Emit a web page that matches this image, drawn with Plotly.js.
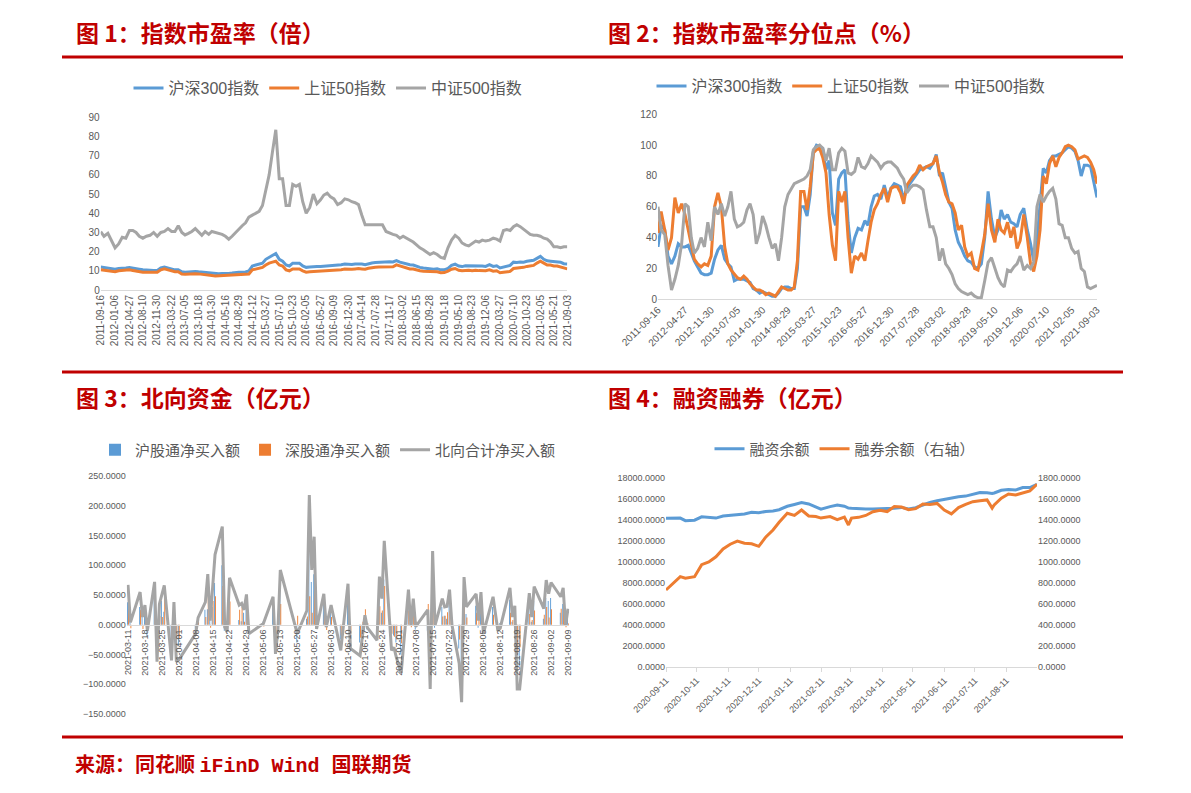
<!DOCTYPE html>
<html><head><meta charset="utf-8">
<script src="https://cdn.plot.ly/plotly-3.0.1.min.js"></script>
<style>html,body{margin:0;padding:0;background:#fff}#chart{width:1191px;height:793px}</style>
</head><body><div id="chart"></div>
<script>
// ---------- Charts 1 & 2: PE and PE percentile ----------
const peDates = [
'2011-09-16','2011-10-12','2011-11-11','2011-12-08',
'2012-01-06','2012-02-03','2012-03-02','2012-03-30',
'2012-04-27','2012-05-24','2012-06-18','2012-07-13',
'2012-08-10','2012-09-07','2012-10-05','2012-11-02',
'2012-11-30','2012-12-28','2013-01-25','2013-02-22',
'2013-03-22','2013-04-17','2013-05-13','2013-06-10',
'2013-07-05','2013-07-31','2013-08-27','2013-09-23',
'2013-10-18','2013-11-13','2013-12-09','2014-01-06',
'2014-01-30','2014-02-26','2014-03-24','2014-04-20',
'2014-05-16','2014-06-11','2014-07-07','2014-08-02',
'2014-08-29','2014-09-24','2014-10-20','2014-11-15',
'2014-12-12','2015-01-08','2015-02-03','2015-03-01',
'2015-03-27','2015-04-22','2015-05-18','2015-06-13',
'2015-07-10','2015-08-05','2015-09-01','2015-09-27',
'2015-10-23','2015-11-18','2015-12-14','2016-01-09',
'2016-02-05','2016-03-04','2016-04-01','2016-04-29',
'2016-05-27','2016-06-22','2016-07-18','2016-08-13',
'2016-09-09','2016-10-07','2016-11-04','2016-12-02',
'2016-12-30','2017-01-26','2017-02-21','2017-03-19',
'2017-04-14','2017-05-10','2017-06-05','2017-07-01',
'2017-07-28','2017-08-25','2017-09-22','2017-10-20',
'2017-11-17','2017-12-13','2018-01-09','2018-02-05',
'2018-03-02','2018-03-28','2018-04-24','2018-05-20',
'2018-06-15','2018-07-11','2018-08-07','2018-09-02',
'2018-09-28','2018-10-26','2018-11-23','2018-12-21',
'2019-01-18','2019-02-15','2019-03-15','2019-04-12',
'2019-05-10','2019-06-05','2019-07-01','2019-07-27',
'2019-08-23','2019-09-19','2019-10-15','2019-11-10',
'2019-12-06','2020-01-05','2020-02-03','2020-03-01',
'2020-03-27','2020-04-23','2020-05-19','2020-06-14',
'2020-07-10','2020-08-05','2020-09-01','2020-09-27',
'2020-10-23','2020-11-18','2020-12-14','2021-01-09',
'2021-02-05','2021-03-04','2021-03-30','2021-04-25',
'2021-05-21','2021-06-16','2021-07-12','2021-08-07',
'2021-09-03'];

const hs300PE = [12,11.8,11.5,11,10.8,11.2,11.5,11.5,11.7,11.5,11,10.8,10.5,10.3,10.3,10.2,10.2,11.5,12,11.5,10.8,10.5,10.5,9.5,9.3,9.5,9.8,9.7,9.5,9.3,9.2,8.8,8.7,8.5,8.5,8.6,8.5,8.6,8.8,9.2,9.3,9.3,9.4,10,12.5,13,13.5,14,
16,17,18,19,16,15,13,12.5,14,14,14,12.5,11.8,12,12.2,12.2,
12.2,12.3,12.6,12.8,12.8,12.9,13.2,13.5,13.3,13.3,13.6,13.7,13.5,13.2,13.8,14.1,14.3,14.5,14.6,14.8,14.7,14.6,15.3,14.5,14,13.6,13.2,13,12.3,11.8,11.5,11.3,11.4,10.8,11,10.5,10.5,11.3,12.8,13.5,12.5,12.2,12.6,12.6,12.4,12.7,12.5,12.5,12.3,13.2,12.3,12.6,11.5,12,12.3,12.8,14.5,14.3,14.6,14.5,15,15.3,15.5,16.5,17.5,16,15.2,15,14.8,14.8,14.5,13.7,13.5];
const sz50PE = [10.5,10.3,10.2,9.8,9.5,10,10.3,10.3,10.5,10.2,9.8,9.5,9.3,9.2,9.3,9.2,9.2,10.5,11,10.5,9.8,9.5,9.5,8.3,8.2,8.3,8.6,8.5,8.4,8.1,8,7.7,7.5,7.3,7.4,7.5,7.4,7.5,7.7,8,8,8,8,8.3,10.5,11,11.5,11.8,
13,14,14.5,15,13,12.5,10.5,10,11,11,11,10,9.3,9.5,9.6,9.7,
9.7,9.8,10,10.3,10.3,10.4,10.6,10.9,10.8,10.8,11,11.2,11,10.8,11.3,11.7,11.9,12,12.1,12.3,12.2,12.1,13.1,12.5,11.8,11.5,11,10.9,10.3,10,9.8,9.7,9.8,9.3,9.5,9,9.1,9.8,10.8,11.2,10.3,10,10.3,10.3,10,10.3,10.1,10,10,10.5,9.8,10,9,9.3,9.5,9.7,11.2,11.3,11.5,11.8,12.3,12.5,12.8,14,15,14,13,13,12.5,12.5,12,11.3,11];
const zz500PE = [30.4,28,29.5,26,22,24,27.5,27,31,31,30,28,27,28,28.5,30,28,30,30.5,32,30.5,30.5,33.5,30,28.7,29.5,30.5,32,30,28.5,30.5,29,30.5,30,29.5,29,28,26.5,28,30,32,33.5,35,38,39,40,41,44,
53,60,72,83.5,58,58,44,44,55,54,55,46,40,43,50,45,
47,49.5,50.5,48.5,47.5,44.5,45.5,47.5,47,46,45.5,44.5,39,34,34,34,34,34,34,30.5,29.5,29,28.5,27,28,27,26,25,23.5,22,21,19.5,18.5,19.5,18.5,17,16.5,22,26,28.5,27,24.5,23.5,23,24.5,25.5,25,26,25.5,26,27,26.5,25.5,31,31.5,31,33,34,33,31.5,30,29,28.5,28.5,28,27,26.5,25,22.5,22.5,22,22.5,22.5];

const hs300Pct = [34,48,45,28,23,28,36,34,34,35,30,25,21,17,16,16,17,26,32,35,26,23,21,12,13,13,13,12,11,7,6,4,5,4,3,2,2,4,7,8,8,7,7,20,60,60,54,68,96,100,99,98,84,90,56,48,78,82,84,50,30,40,46,45,51,48,60,67,68,65,74,66,72,75,74,73,65,72,75,78,81,84,85,86,85,88,94,80,82,72,63,59,45,37,33,28,25,24,21,20,23,40,70,52,40,45,58,52,55,50,49,47,55,59,45,36,25,38,60,85,82,90,93,93,94,95,97,99,98,96,90,80,87,87,86,75,66];
const sz50Pct = [43,57,45,32,40,66,56,62,55,45,35,26,23,21,23,22,28,60,69,60,34,23,19,16,14,13,15,13,10,8,6,6,5,3,4,3,2,5,8,7,6,6,8,25,70,70,58,73,95,97,98,92,82,55,35,25,70,63,70,40,17,28,26,30,25,38,50,58,62,68,72,63,72,73,73,69,62,74,77,80,82,87,84,86,87,88,93,82,76,68,63,62,56,45,48,34,28,30,20,19,30,42,62,45,37,52,45,43,50,40,47,33,38,55,40,23,18,28,45,80,75,88,93,86,92,95,99,100,99,97,91,92,93,92,89,84,75];
const zz500Pct = [60,45,42,22,6,13,22,36,62,60,40,30,33,40,34,50,38,60,55,62,54,60,70,52,47,48,50,58,62,55,36,43,54,48,40,33,36,25,40,60,68,72,75,76,77,78,80,84,97,99,100,98,90,98,84,84,95,98,96,82,81,83,92,86,85,88,93,91,89,85,88,89,89,87,85,81,78,69,72,74,74,73,71,58,47,47,40,25,33,23,20,16,10,7,5,4,3,4,2,1,1,12,24,27,20,14,10,8,19,18,21,23,28,19,22,20,24,60,68,63,67,70,72,65,49,48,40,40,33,30,31,20,18,8,7,8,9];

const peTicks1 = ['2011-09-16','2012-01-06','2012-04-27','2012-08-10','2012-11-30','2013-03-22','2013-07-05','2013-10-18','2014-01-30','2014-05-16','2014-08-29','2014-12-12','2015-03-27','2015-07-10','2015-10-23','2016-02-05','2016-05-27','2016-09-09','2016-12-30','2017-04-14','2017-07-28','2017-11-17','2018-03-02','2018-06-15','2018-09-28','2019-01-18','2019-05-10','2019-08-23','2019-12-06','2020-03-27','2020-07-10','2020-10-23','2021-02-05','2021-05-21','2021-09-03'];
const peTicks2 = ['2011-09-16','2012-04-27','2012-11-30','2013-07-05','2014-01-30','2014-08-29','2015-03-27','2015-10-23','2016-05-27','2016-12-30','2017-07-28','2018-03-02','2018-09-28','2019-05-10','2019-12-06','2020-07-10','2021-02-05','2021-09-03'];

// ---------- Chart 3: Northbound flows ----------
const nbDates = ['2021-03-11','2021-03-12','2021-03-16','2021-03-17','2021-03-18','2021-03-19','2021-03-22','2021-03-23','2021-03-24','2021-03-25','2021-03-26','2021-03-29','2021-03-30','2021-03-31','2021-04-01',
'2021-04-08','2021-04-09','2021-04-12','2021-04-13','2021-04-14','2021-04-15','2021-04-16','2021-04-19','2021-04-20','2021-04-21','2021-04-22','2021-04-26','2021-04-27','2021-04-28','2021-04-29','2021-04-30',
'2021-05-06','2021-05-10','2021-05-11','2021-05-12','2021-05-13','2021-05-20','2021-05-24','2021-05-25','2021-05-26','2021-05-27','2021-05-28','2021-05-31','2021-06-01','2021-06-03','2021-06-07','2021-06-10','2021-06-11',
'2021-06-15','2021-06-16','2021-06-17','2021-06-18','2021-06-22','2021-06-23','2021-06-24','2021-06-25','2021-06-28','2021-06-29','2021-06-30','2021-07-02','2021-07-05','2021-07-06','2021-07-07','2021-07-08',
'2021-07-13','2021-07-14','2021-07-15','2021-07-16','2021-07-19','2021-07-20','2021-07-21','2021-07-22','2021-07-23','2021-07-26','2021-07-27','2021-07-28','2021-07-29',
'2021-08-02','2021-08-03','2021-08-04','2021-08-05','2021-08-09','2021-08-11','2021-08-12','2021-08-16','2021-08-17','2021-08-18','2021-08-19','2021-08-20','2021-08-24','2021-08-25','2021-08-26','2021-08-30','2021-08-31',
'2021-09-01','2021-09-02','2021-09-06','2021-09-07','2021-09-08','2021-09-09'];
const nbTotal = [67,4,55,13,33,-10,72,-62,35,53,66,-60,38,-62,-59,
-15,12,38,85,7,70,118,165,-4,-12,79,33,36,25,51,-15,
2,47,-49,-10,92,-15,24,218,92,148,-7,52,-4,33,-43,69,-40,
-52,-20,16,-5,-26,81,44,141,-43,-38,-55,-81,59,-1,44,-3,
25,-108,124,-1,44,30,31,59,0,-65,-130,80,30,
52,7,55,-15,47,-10,-5,62,13,32,-108,-108,53,13,64,27,75,
52,71,47,62,-1,27];
const shNet = [38,10,30,20,22,-20,55,-35,20,40,22,-25,18,-40,-35,
-8,5,25,26,12,30,70,100,-10,-5,40,8,6,20,28,-8,
5,30,-20,5,57,-30,10,170,72,85,-5,35,5,20,-25,40,-25,
-30,-25,-10,-8,-20,50,20,76,-28,-18,-30,-50,35,3,25,-8,
-10,-80,95,-5,30,15,10,35,5,-40,-70,20,18,
32,-5,35,-10,30,-5,3,42,5,15,-60,-70,35,5,40,10,45,
40,45,20,35,3,25];
const szNet = [29,-6,25,-7,11,10,17,-27,15,13,44,-35,20,-22,-24,
-7,7,13,59,-5,40,48,65,6,-7,39,25,30,5,23,-7,
-3,17,-29,-15,35,15,14,48,20,63,-2,17,-9,13,-18,29,-15,
-22,5,26,3,-6,31,24,65,-15,-20,-25,-31,24,-4,19,5,
35,-28,29,4,14,15,21,24,-5,-25,-60,60,12,
20,12,20,-5,17,-5,-8,20,8,17,-48,-38,18,8,24,17,30,
12,26,27,27,-4,2];
const nbTicks = ['2021-03-11','2021-03-18','2021-03-25','2021-04-01','2021-04-08','2021-04-15','2021-04-22','2021-04-29','2021-05-06','2021-05-13','2021-05-20','2021-05-27','2021-06-03','2021-06-10','2021-06-17','2021-06-24','2021-07-01','2021-07-08','2021-07-15','2021-07-22','2021-07-29','2021-08-05','2021-08-12','2021-08-19','2021-08-26','2021-09-02','2021-09-09'];

// ---------- Chart 4: Margin financing & securities lending ----------
const mrgDates = ['2020-09-11','2020-09-18','2020-09-25','2020-09-30','2020-10-09','2020-10-16','2020-10-23','2020-10-30','2020-11-06','2020-11-13','2020-11-20','2020-11-27','2020-12-04','2020-12-11','2020-12-18','2020-12-25','2020-12-31','2021-01-08','2021-01-15','2021-01-22','2021-01-29','2021-02-05','2021-02-10','2021-02-19','2021-02-26','2021-03-05','2021-03-09','2021-03-12','2021-03-19','2021-03-26','2021-04-02','2021-04-09','2021-04-16','2021-04-23','2021-04-30','2021-05-07','2021-05-14','2021-05-21','2021-05-28','2021-06-04','2021-06-11','2021-06-18','2021-06-25','2021-07-02','2021-07-09','2021-07-16','2021-07-23','2021-07-28','2021-07-30','2021-08-06','2021-08-13','2021-08-20','2021-08-27','2021-09-03','2021-09-10'];
const finBal = [14180,14220,14200,13950,14000,14320,14270,14200,14400,14450,14560,14590,14760,14720,14830,14880,15000,15330,15500,15680,15550,15250,15050,15290,15450,15330,15150,15130,15080,15070,15070,15130,15120,15140,15220,15080,15200,15450,15700,15850,15990,16060,16230,16300,16500,16650,16620,16550,16600,16850,16920,16880,17110,17120,17430];
const secBal = [733,800,860,845,860,975,1000,1050,1125,1170,1200,1180,1175,1150,1240,1306,1380,1466,1445,1497,1440,1435,1420,1434,1405,1430,1354,1420,1427,1445,1480,1495,1482,1530,1525,1500,1510,1555,1550,1560,1497,1460,1520,1550,1577,1585,1593,1515,1545,1610,1650,1640,1660,1680,1743];
const mrgTicks = ['2020-09-11','2020-10-11','2020-11-11','2020-12-11','2021-01-11','2021-02-11','2021-03-11','2021-04-11','2021-05-11','2021-06-11','2021-07-11','2021-08-11'];

// ---------- layout helpers ----------
const W = 1191, H = 793;
const px = v => v / W;
const py = v => 1 - v / H;
const BLUE = '#5B9BD5', ORANGE = '#ED7D31', GRAY = '#A5A5A5', RED = '#C00000';
const FONT = 'Liberation Sans, Arial, Noto Sans CJK SC, sans-serif';
const tick = s => ({family: FONT, size: s, color: '#595959'});
const legFont = {family: FONT, size: 15, color: '#595959'};

const traces = [
  {x: peDates, y: hs300PE, name: '沪深300指数', type: 'scatter', mode: 'lines', line: {color: BLUE, width: 3}, xaxis: 'x', yaxis: 'y', legend: 'legend'},
  {x: peDates, y: sz50PE, name: '上证50指数', type: 'scatter', mode: 'lines', line: {color: ORANGE, width: 3}, xaxis: 'x', yaxis: 'y', legend: 'legend'},
  {x: peDates, y: zz500PE, name: '中证500指数', type: 'scatter', mode: 'lines', line: {color: GRAY, width: 3}, xaxis: 'x', yaxis: 'y', legend: 'legend'},

  {x: peDates, y: hs300Pct, name: '沪深300指数', type: 'scatter', mode: 'lines', line: {color: BLUE, width: 3}, xaxis: 'x2', yaxis: 'y2', legend: 'legend2'},
  {x: peDates, y: sz50Pct, name: '上证50指数', type: 'scatter', mode: 'lines', line: {color: ORANGE, width: 3}, xaxis: 'x2', yaxis: 'y2', legend: 'legend2'},
  {x: peDates, y: zz500Pct, name: '中证500指数', type: 'scatter', mode: 'lines', line: {color: GRAY, width: 3}, xaxis: 'x2', yaxis: 'y2', legend: 'legend2'},

  {x: nbDates, y: shNet, name: '沪股通净买入额', type: 'bar', marker: {color: BLUE}, xaxis: 'x3', yaxis: 'y3', legend: 'legend3'},
  {x: nbDates, y: szNet, name: '深股通净买入额', type: 'bar', marker: {color: ORANGE}, xaxis: 'x3', yaxis: 'y3', legend: 'legend3'},
  {x: nbDates, y: nbTotal, name: '北向合计净买入额', type: 'scatter', mode: 'lines', line: {color: GRAY, width: 3}, xaxis: 'x3', yaxis: 'y3', legend: 'legend3'},

  {x: mrgDates, y: finBal, name: '融资余额', type: 'scatter', mode: 'lines', line: {color: BLUE, width: 3}, xaxis: 'x4', yaxis: 'y4', legend: 'legend4'},
  {x: mrgDates, y: secBal, name: '融券余额（右轴）', type: 'scatter', mode: 'lines', line: {color: ORANGE, width: 3}, xaxis: 'x4', yaxis: 'y5', legend: 'legend4'}
];

const legendBase = {orientation: 'h', font: legFont, bgcolor: 'rgba(0,0,0,0)', xanchor: 'center', yanchor: 'middle', traceorder: 'normal', itemclick: false, itemdoubleclick: false};

const layout = {
  width: W, height: H,
  margin: {l: 0, r: 0, t: 0, b: 0},
  paper_bgcolor: '#fff', plot_bgcolor: '#fff',
  hovermode: false,
  barmode: 'group', bargap: 0.25, bargroupgap: 0,
  legend: Object.assign({}, legendBase, {x: px(328), y: py(88), font: {family: FONT, size: 16, color: '#595959'}}),
  legend2: Object.assign({}, legendBase, {x: px(851), y: py(86), font: {family: FONT, size: 16, color: '#595959'}}),
  legend3: Object.assign({}, legendBase, {x: px(328), y: py(450)}),
  legend4: Object.assign({}, legendBase, {x: px(845), y: py(449)}),

  xaxis: {type: 'date', domain: [px(100.7), px(567.3)], range: ['2011-09-16', '2021-09-03'], anchor: 'y',
    tickmode: 'array', tickvals: peTicks1, ticktext: peTicks1, tickangle: -90, tickfont: tick(10),
    showgrid: false, zeroline: false, showline: true, linecolor: '#D9D9D9', linewidth: 1, ticks: ''},
  yaxis: {domain: [py(290), py(117.3)], range: [0, 90], dtick: 10, anchor: 'x', tickfont: tick(10),
    showgrid: false, zeroline: false, showline: false, ticks: ''},

  xaxis2: {type: 'date', domain: [px(658), px(1097)], range: ['2011-09-16', '2021-09-03'], anchor: 'y2',
    tickmode: 'array', tickvals: peTicks2, ticktext: peTicks2, tickangle: -45, tickfont: tick(10),
    showgrid: false, zeroline: false, showline: true, linecolor: '#D9D9D9', linewidth: 1, ticks: ''},
  yaxis2: {domain: [py(299.3), py(114.3)], range: [0, 120], dtick: 20, anchor: 'x2', tickfont: tick(10),
    showgrid: false, zeroline: false, showline: false, ticks: ''},

  xaxis3: {type: 'date', domain: [px(126.8), px(569.2)], range: ['2021-03-10 12:00', '2021-09-09 12:00'], anchor: 'free', position: py(625),
    tickmode: 'array', tickvals: nbTicks, ticktext: nbTicks, tickangle: -90, tickfont: tick(9),
    showgrid: false, zeroline: false, showline: true, linecolor: '#D9D9D9', linewidth: 1, ticks: ''},
  yaxis3: {domain: [py(714), py(476)], range: [-150, 250], dtick: 50, tickformat: '.4f', anchor: 'x3', tickfont: tick(9),
    showgrid: false, zeroline: false, showline: false, ticks: ''},

  xaxis4: {type: 'date', domain: [px(666), px(1037)], range: ['2020-09-11', '2021-09-10'], anchor: 'y4',
    tickmode: 'array', tickvals: mrgTicks, ticktext: mrgTicks, tickangle: -45, tickfont: tick(9),
    showgrid: false, zeroline: false, showline: true, linecolor: '#D9D9D9', linewidth: 1, ticks: 'outside', ticklen: 4, tickcolor: '#D9D9D9'},
  yaxis4: {domain: [py(666.7), py(478.3)], range: [0, 18000], dtick: 2000, tickformat: '.4f', anchor: 'x4', tickfont: tick(9),
    showgrid: false, zeroline: false, showline: false, ticks: ''},
  yaxis5: {overlaying: 'y4', side: 'right', anchor: 'x4', range: [0, 1800], dtick: 200, tickformat: '.4f', tickfont: tick(9),
    showgrid: false, zeroline: false, showline: false, ticks: ''},

  shapes: [57, 372, 737].map(y => ({type: 'line', xref: 'paper', yref: 'paper', x0: px(62), x1: px(1123), y0: py(y), y1: py(y), line: {color: RED, width: 3}})),

  annotations: [
    {text: '图 1：指数市盈率（倍）', x: px(74), y: py(32), font: {size: 23}},
    {text: '图 2：指数市盈率分位点（%）', x: px(606), y: py(32), font: {size: 23}},
    {text: '图 3：北向资金（亿元）', x: px(74), y: py(397), font: {size: 23}},
    {text: '图 4：融资融券（亿元）', x: px(606), y: py(397), font: {size: 23}},
    {text: '来源：同花顺 <span style="font-family:Liberation Mono, monospace">iFinD&nbsp;Wind&nbsp;</span>国联期货', x: px(73), y: py(763), font: {size: 20}}
  ].map(a => Object.assign({xref: 'paper', yref: 'paper', xanchor: 'left', yanchor: 'middle', showarrow: false}, a,
    {font: {family: 'Noto Sans CJK SC, sans-serif', size: a.font.size, color: RED, weight: 700}}))
};

Plotly.newPlot('chart', traces, layout, {staticPlot: true, displayModeBar: false});
</script></body></html>
